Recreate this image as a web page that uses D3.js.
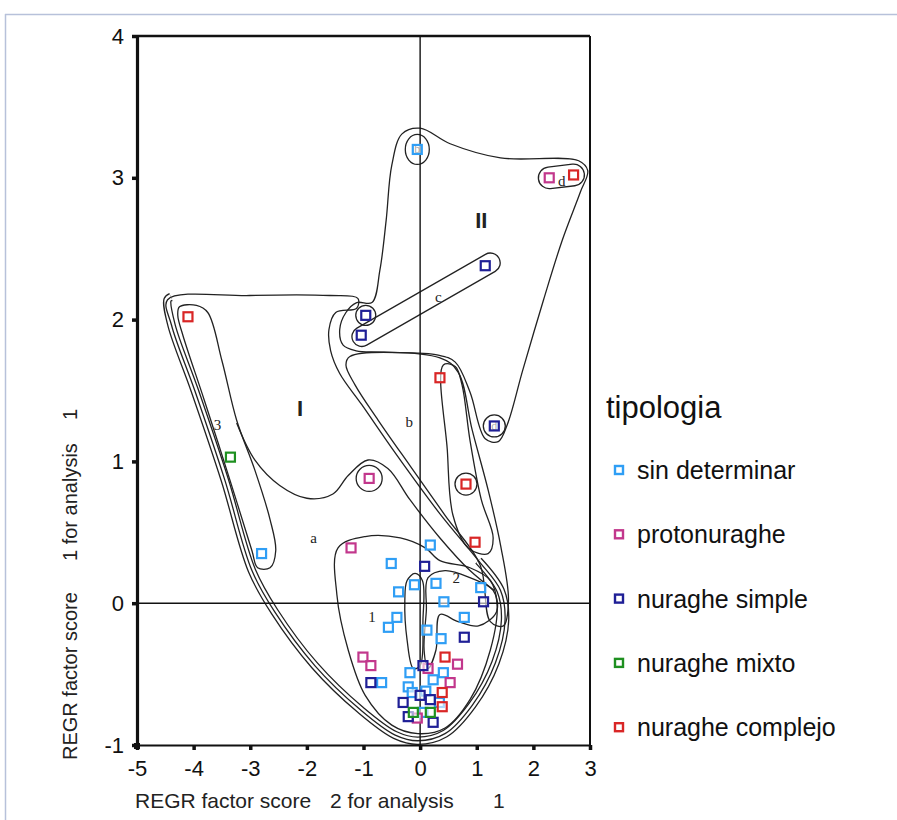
<!DOCTYPE html>
<html><head><meta charset="utf-8">
<script src="https://cdn.jsdelivr.net/npm/d3@7/dist/d3.min.js"></script>
<style>
body{margin:0;background:#fff}
svg{display:block;font-family:"Liberation Sans",Arial,Helvetica,sans-serif}
</style>
</head><body>
<svg id="chart" width="897" height="820"></svg>
<script>
// ---------- data ----------
const xTicks = [-5,-4,-3,-2,-1,0,1,2,3];
const yTicks = [-1,0,1,2,3,4];
const categories = ["sin determinar","protonuraghe","nuraghe simple","nuraghe mixto","nuraghe complejo"];
const colors = ["#2f9ef5","#c2378c","#1f1f96","#1e9020","#d92626"];

const sinDeterminar = [[-0.05,3.20],[-2.80,0.35],[0.18,0.41],[-0.51,0.28],[-0.10,0.13],[0.28,0.14],[-0.38,0.08],[1.07,0.11],[0.42,0.01],[-0.41,-0.10],[0.78,-0.10],[-0.56,-0.17],[0.12,-0.19],[0.37,-0.25],[-0.68,-0.56],[-0.18,-0.49],[0.23,-0.54],[-0.21,-0.59],[0.41,-0.49],[-0.14,-0.63],[0.05,-0.77],[0.34,-0.70],[0.10,-0.62]];
const protonuraghe = [[2.28,3.00],[-0.90,0.88],[-1.22,0.39],[-1.01,-0.38],[-0.87,-0.44],[0.66,-0.43],[0.14,-0.46],[0.53,-0.56],[-0.05,-0.81]];
const nuragheSimple = [[1.15,2.38],[-0.96,2.03],[-1.04,1.89],[1.31,1.25],[0.08,0.26],[1.12,0.01],[0.78,-0.24],[-0.87,-0.56],[0.05,-0.44],[0.00,-0.65],[0.18,-0.68],[-0.30,-0.70],[-0.21,-0.80],[0.23,-0.84]];
const nuragheMixto = [[-3.35,1.03],[-0.12,-0.77],[0.18,-0.77]];
const nuragheComplejo = [[-4.10,2.02],[2.71,3.02],[0.35,1.59],[0.81,0.84],[0.97,0.43],[0.44,-0.38],[0.39,-0.63],[0.39,-0.73]];
const seriesValues = [sinDeterminar, protonuraghe, nuragheSimple, nuragheMixto, nuragheComplejo];

// cluster outlines (data units)
const outlineA = [[-4.46,2.14],[-3.01,2.17],[-1.59,2.17],[-1.10,2.15],[-1.12,2.08],[-1.49,2.05],[-1.61,1.93],[-1.58,1.78],[-1.42,1.62],[-1.03,1.40],[-0.44,1.06],[0.35,0.63],[1.03,0.30],[1.42,0.09],[1.50,-0.12],[1.33,-0.42],[0.92,-0.72],[0.44,-0.92],[-0.04,-0.97],[-0.44,-0.93],[-1.06,-0.75],[-1.86,-0.44],[-2.57,-0.06],[-2.97,0.23],[-3.45,0.87],[-3.98,1.50],[-4.39,1.96]];
const outlineANested = [[-4.40,2.16],[-4.46,2.14],[-4.39,1.96],[-3.98,1.50],[-3.45,0.87],[-2.97,0.23],[-2.57,-0.06],[-1.86,-0.44],[-1.06,-0.75],[-0.44,-0.93],[-0.04,-0.97],[0.44,-0.92],[0.92,-0.72],[1.33,-0.42],[1.50,-0.12],[1.42,0.09],[1.03,0.30]];
const outline3 = [[-4.25,2.09],[-3.95,2.10],[-3.75,2.05],[-3.50,1.71],[-3.24,1.29],[-2.92,0.94],[-2.65,0.59],[-2.55,0.37],[-2.65,0.25],[-2.87,0.25],[-2.97,0.37],[-3.36,0.87],[-3.81,1.43],[-4.19,1.89],[-4.28,2.03]];
const outlineIBottom = [[-3.24,1.27],[-2.92,1.01],[-2.48,0.83],[-2.00,0.74],[-1.54,0.77],[-1.27,0.90],[-0.92,1.01],[-0.57,0.95],[-0.18,0.73],[0.35,0.46],[0.88,0.23],[1.31,0.09]];
const outlineII = [[-0.85,2.12],[-0.71,2.35],[-0.60,2.70],[-0.50,3.09],[-0.32,3.31],[0,3.35],[0.53,3.24],[1.42,3.14],[2.80,3.12],[2.96,3.05],[2.83,2.90],[2.51,2.56],[2.18,2.14],[1.81,1.64],[1.54,1.26],[1.38,1.14],[1.15,1.16],[0.88,1.49],[0.62,1.70],[0.32,1.75],[-0.71,1.77],[-1.13,1.78],[-1.36,1.82],[-1.42,1.93],[-1.31,2.05],[-1.12,2.12]];
const outlineB = [[-1.24,1.74],[0.35,1.73],[0.67,1.63],[0.92,1.22],[1.20,0.80],[1.42,0.41],[1.56,0.02],[1.47,-0.16],[1.24,-0.13],[1.06,0.27],[0.44,0.62],[-0.18,0.97],[-0.74,1.29],[-1.15,1.54],[-1.31,1.68]];
const outlineTongue = [[0.41,1.68],[0.48,1.08],[0.58,0.62],[0.85,0.39],[1.20,0.35],[1.29,0.46],[1.08,0.73],[0.88,1.15],[0.74,1.54],[0.62,1.67]];
const outline1 = [[-1.45,0.39],[-0.97,0.47],[-0.35,0.46],[0.09,0.39],[0.35,0.30],[0.88,0.25],[1.24,0.16],[1.36,-0.01],[1.24,-0.33],[0.88,-0.68],[0.44,-0.88],[-0.04,-0.92],[-0.50,-0.86],[-0.97,-0.65],[-1.27,-0.33],[-1.47,0.06]];
const outline2 = [[0.14,0.18],[0.44,0.23],[0.88,0.18],[1.29,0.09],[1.35,-0.06],[1.03,-0.16],[0.67,-0.13],[0.35,-0.08],[0.28,-0.33],[0.14,-0.46],[0.07,-0.33],[0.11,-0.05]];
const outlineV = [[-0.23,0.16],[-0.09,0.21],[0.04,0.16],[0.05,-0.12],[0,-0.44],[-0.12,-0.46],[-0.23,-0.26],[-0.27,0.02]];
const capsuleC = [[-1.03,1.88],[1.24,2.40]];
const capsuleD = [[2.28,3.00],[2.71,3.02]];
const rings = [[-0.05,3.20,12,15],[1.31,1.25,11,11],[-0.90,0.88,13,13],[0.81,0.84,11,11],[-0.96,2.03,10,10]];
const labelTexts = ["I","II","a","b","c","d","1","2","3","b","d"];
const labelPos = [[-2.12,1.37],[1.08,2.70],[-1.88,0.46],[-0.19,1.28],[0.32,2.16],[2.50,2.98],[-0.85,-0.10],[0.64,0.18],[-3.58,1.26],[-0.05,3.20],[1.31,1.25]];

// ---------- drawing ----------
const svg = d3.select("#chart");
const x = d3.scaleLinear().domain([-5,3]).range([137,590]);
const y = d3.scaleLinear().domain([-1,4]).range([745,36]);

// page frame
svg.append("line").attr("x1",5).attr("x2",897).attr("y1",14.5).attr("y2",14.5).attr("stroke","#b7c1da").attr("stroke-width",1.5);
svg.append("line").attr("x1",5.5).attr("x2",5.5).attr("y1",14).attr("y2",820).attr("stroke","#b7c1da").attr("stroke-width",1.5);

const closed = d3.line().x(d=>x(d[0])).y(d=>y(d[1])).curve(d3.curveCatmullRomClosed.alpha(0.5));
const open = d3.line().x(d=>x(d[0])).y(d=>y(d[1])).curve(d3.curveCatmullRom.alpha(0.5));
const g = svg.append("g").attr("fill","none");

// triple nested outline along left / bottom / right
[[8.6,"#222"],[6.0,"#fff"]].forEach(([w,c])=>{
  g.append("path").attr("d",open(outlineANested)).attr("stroke",c).attr("stroke-width",w);
});
g.append("path").attr("d",closed(outlineA)).attr("stroke","#222").attr("stroke-width",1.3);
// capsules (outline via double stroke)
[capsuleC,capsuleD].forEach((cap,i)=>{
  const w = i===0?21:23;
  g.append("path").attr("d",open(cap)).attr("stroke","#222").attr("stroke-width",w).attr("stroke-linecap","round");
  g.append("path").attr("d",open(cap)).attr("stroke","#fff").attr("stroke-width",w-2.6).attr("stroke-linecap","round");
});
[outline3,outlineII,outlineB,outlineTongue,outline1,outline2,outlineV].forEach(o=>{
  g.append("path").attr("d",closed(o)).attr("stroke","#222").attr("stroke-width",1.3);
});
g.append("path").attr("d",open(outlineIBottom)).attr("stroke","#222").attr("stroke-width",1.3);
rings.forEach(r=>{
  g.append("ellipse").attr("cx",x(r[0])).attr("cy",y(r[1])).attr("rx",r[2]).attr("ry",r[3]).attr("stroke","#222").attr("stroke-width",1.3);
});

// zero lines and plot frame
svg.append("line").attr("x1",x(0)).attr("x2",x(0)).attr("y1",y(4)).attr("y2",y(-1)).attr("stroke","#111").attr("stroke-width",1.4);
svg.append("line").attr("x1",x(-5)).attr("x2",x(3)).attr("y1",y(0)).attr("y2",y(0)).attr("stroke","#111").attr("stroke-width",1.6);
svg.append("line").attr("x1",x(-5)).attr("x2",x(3)).attr("y1",y(4)).attr("y2",y(4)).attr("stroke","#111").attr("stroke-width",2.6);
svg.append("line").attr("x1",x(3)).attr("x2",x(3)).attr("y1",y(4)).attr("y2",y(-1)).attr("stroke","#111").attr("stroke-width",2);

// region labels
svg.append("g").selectAll("text").data(labelTexts).join("text")
  .attr("x",(d,i)=>x(labelPos[i][0])).attr("y",(d,i)=>y(labelPos[i][1]))
  .attr("text-anchor","middle").attr("dominant-baseline","central")
  .attr("font-family",d=>(d==="I"||d==="II")?"'Liberation Sans',Arial,sans-serif":"'Liberation Serif','Times New Roman',serif")
  .attr("font-weight",d=>(d==="I"||d==="II")?"bold":"normal")
  .attr("font-size",(d,i)=>(d==="I"||d==="II")?22:(i>=9?12:15))
  .attr("fill","#222").text(d=>d);

// axes
const fmt = d => String(d);
const ax = svg.append("g").attr("transform",`translate(0,${y(-1)})`)
  .call(d3.axisBottom(x).tickValues(xTicks).tickFormat(fmt).tickSize(5).tickSizeOuter(0).tickPadding(10));
ax.select(".domain").attr("stroke","#111").attr("stroke-width",2.2);
ax.selectAll(".tick line").attr("stroke","#111").attr("stroke-width",3.5);
ax.selectAll(".tick text").attr("font-size",22).attr("fill","#111").attr("font-family","'Liberation Sans',Arial,sans-serif");
const ay = svg.append("g").attr("transform",`translate(${x(-5)},0)`)
  .call(d3.axisLeft(y).tickValues(yTicks).tickFormat(fmt).tickSize(5).tickSizeOuter(0).tickPadding(8));
ay.select(".domain").attr("stroke","#111").attr("stroke-width",3.2);
ay.selectAll(".tick line").attr("stroke","#111").attr("stroke-width",3.5);
ay.selectAll(".tick text").attr("font-size",22).attr("fill","#111").attr("font-family","'Liberation Sans',Arial,sans-serif");
svg.append("rect").attr("x",x(-5)-3).attr("y",y(-1)-2).attr("width",6).attr("height",6).attr("fill","#111");

// points
seriesValues.forEach((vals,i)=>{
  svg.append("g").selectAll("rect").data(vals).join("rect")
    .attr("x",d=>x(d[0])-4.5).attr("y",d=>y(d[1])-4.5).attr("width",9).attr("height",9)
    .attr("fill","#fff").attr("fill-opacity",0.6).attr("stroke",colors[i]).attr("stroke-width",2.2);
});

// axis titles
const xt = [["REGR factor score",135],["2 for analysis",330],["1",493]];
xt.forEach(t=>svg.append("text").attr("x",t[1]).attr("y",808).attr("font-size",21).attr("fill","#222").text(t[0]));
const yt = [["REGR factor score",760],["1 for analysis",561],["1",420]];
yt.forEach(t=>svg.append("text").attr("transform",`translate(77,${t[1]}) rotate(-90)`).attr("font-size",20).attr("fill","#222").text(t[0]));

// legend
svg.append("text").attr("x",606).attr("y",418).attr("font-size",31).attr("fill","#111").text("tipologia");
const lg = svg.append("g").selectAll("g").data(categories).join("g")
  .attr("transform",(d,i)=>`translate(619,${470 + i*64.3})`);
lg.append("rect").attr("x",-4).attr("y",-4).attr("width",8).attr("height",8).attr("fill","#fff").attr("stroke",(d,i)=>colors[i]).attr("stroke-width",2.4);
lg.append("text").attr("x",18).attr("y",9).attr("font-size",25).attr("fill","#111").text(d=>d);
</script>
</body></html>
